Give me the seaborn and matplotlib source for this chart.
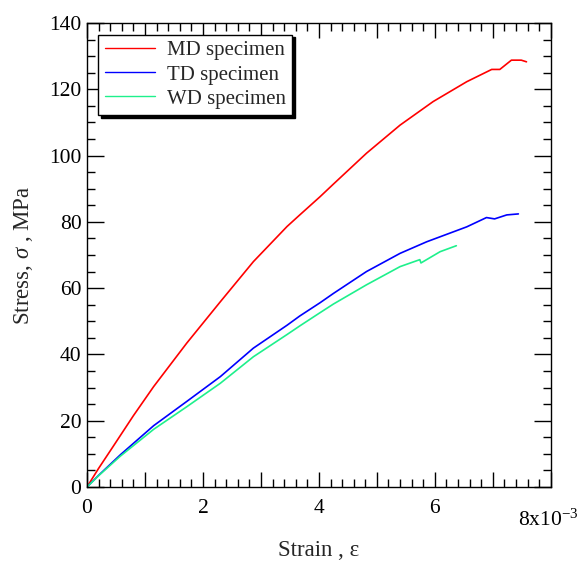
import numpy as np
import pandas as pd
import matplotlib
matplotlib.use("Agg")
import matplotlib.pyplot as plt
import matplotlib.transforms as mtransforms
import seaborn as sns
from matplotlib.ticker import MultipleLocator, FuncFormatter

# strain in units of 1e-3, stress in MPa
md_strain = [0.0, 0.2, 0.45, 0.8, 1.15, 1.72, 2.30, 2.87, 3.45, 3.67, 4.02, 4.25, 4.82,
             5.40, 5.97, 6.55, 6.98, 7.12, 7.32, 7.49, 7.58]
md_stress = [0.0, 5.6, 12.2, 21.5, 30.3, 43.4, 55.9, 68.0, 78.6, 82.1, 87.6, 91.4, 100.7,
             109.2, 116.3, 122.3, 126.0, 126.0, 128.8, 128.8, 128.3]

td_strain = [0.0, 0.2, 0.575, 1.15, 1.72, 2.30, 2.87, 3.45, 3.67, 4.02, 4.25, 4.82,
             5.40, 5.86, 6.55, 6.89, 7.03, 7.24, 7.44]
td_stress = [0.0, 3.5, 9.7, 18.5, 25.8, 33.3, 41.9, 48.8, 51.6, 55.6, 58.4, 65.0,
             70.5, 74.0, 78.5, 81.3, 80.9, 82.1, 82.4]

wd_strain = [0.0, 0.2, 0.575, 1.15, 1.72, 2.30, 2.87, 3.45, 3.67, 4.02, 4.25, 4.82,
             5.40, 5.74, 5.76, 6.09, 6.37]
wd_stress = [0.0, 3.4, 9.3, 17.4, 24.2, 31.3, 39.3, 46.0, 48.6, 52.6, 55.2, 61.0,
             66.5, 68.6, 67.6, 71.0, 72.8]

labels = ["MD specimen", "TD specimen", "WD specimen"]
colors = ["#ff0000", "#0000ff", "#1ef08c"]

df = pd.concat([
    pd.DataFrame({"strain": md_strain, "stress": md_stress, "specimen": labels[0]}),
    pd.DataFrame({"strain": td_strain, "stress": td_stress, "specimen": labels[1]}),
    pd.DataFrame({"strain": wd_strain, "stress": wd_stress, "specimen": labels[2]}),
], ignore_index=True)

sns.set_style("ticks")
plt.rcParams['font.family'] = ['Liberation Serif', 'DejaVu Serif']
plt.rcParams['mathtext.fontset'] = 'custom'
plt.rcParams['mathtext.rm'] = 'Liberation Serif'
plt.rcParams['mathtext.it'] = 'Liberation Serif:italic'

fig = plt.figure(figsize=(5.78, 5.62), dpi=100)
ax = fig.add_axes([0.1505, 0.1335, 0.8025, 0.8255])

sns.lineplot(data=df, x="strain", y="stress", hue="specimen", palette=colors,
             sort=False, estimator=None, linewidth=1.2, ax=ax)

ax.set_xlim(0, 8)
ax.set_ylim(0, 140)

ax.xaxis.set_major_locator(MultipleLocator(1))
ax.xaxis.set_minor_locator(MultipleLocator(0.2))
ax.yaxis.set_major_locator(MultipleLocator(20))
ax.yaxis.set_minor_locator(MultipleLocator(5))

def xfmt(v, pos):
    v = int(round(v))
    if v == 8:
        return r"8x10$^{-3}$"
    return str(v) if v % 2 == 0 else ""

ax.xaxis.set_major_formatter(FuncFormatter(xfmt))
ax.tick_params(which="both", direction="in", top=True, right=True, labelsize=15.5,
               colors="black", width=1.0)
ax.tick_params(which="minor", length=6)
ax.tick_params(axis="x", which="major", length=10.5, pad=9)
ax.tick_params(axis="y", which="major", length=12, pad=4)
for s in ax.spines.values():
    s.set_visible(True)
    s.set_linewidth(1.0)
    s.set_color("black")

# the 8x10^-3 label sits a bit lower and left in the reference
fig.canvas.draw()
for t in ax.get_xticklabels():
    if "10" in t.get_text():
        t.set_transform(t.get_transform() +
                        mtransforms.ScaledTranslation(-2 / 72, -7 / 72, fig.dpi_scale_trans))

ax.set_xlabel("Strain , ε", fontsize=16.5, va="top")
ax.xaxis.set_label_coords(0.5, -0.115)
ax.set_ylabel(r"Stress, $\it{\sigma}$ , MPa", fontsize=16.5, labelpad=10)

leg = ax.legend(loc="upper left", fontsize=15, frameon=True, fancybox=False,
                shadow={"color": "black", "alpha": 1.0}, edgecolor="black",
                borderpad=0.3, labelspacing=0.22, handlelength=2.4, handletextpad=0.6,
                borderaxespad=0.55)
leg.get_frame().set_linewidth(1.0)
for line in leg.get_lines():
    line.set_linewidth(1.0)

fig.savefig("out.png", dpi=100)
